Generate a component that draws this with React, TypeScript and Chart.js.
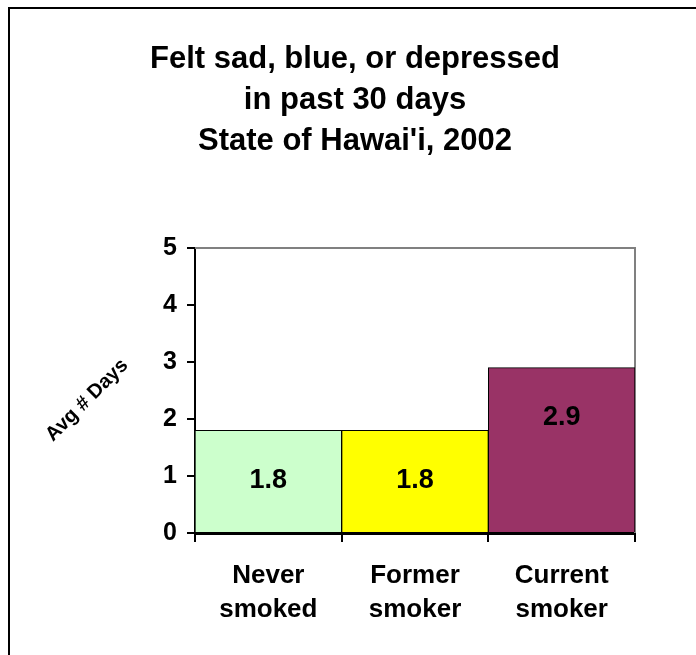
import { useEffect, useRef } from "react";
import { Chart, registerables } from "chart.js";

Chart.register(...registerables);

const FONT = "'Liberation Sans', Arial, Helvetica, sans-serif";

const titleLines = ["Felt sad, blue, or depressed", "in past 30 days", "State of Hawai'i, 2002"];
const categories = [
  ["Never", "smoked"],
  ["Former", "smoker"],
  ["Current", "smoker"],
];
const values = [1.8, 1.8, 2.9];
const barColors = ["#CCFFCC", "#FFFF00", "#993366"];
const yMin = 0;
const yMax = 5;
const yStep = 1;
const yTitle = "Avg # Days";

const framePlugin = {
  id: "frame",
  beforeDraw(chart: any) {
    const ctx = chart.ctx;
    ctx.save();
    ctx.fillStyle = "#000";
    ctx.fillRect(8, 7, chart.width - 8, 2);
    ctx.fillRect(8, 7, 2, chart.height - 7);
    ctx.restore();
  },
};

const plotBorderPlugin = {
  id: "plotBorder",
  beforeDatasetsDraw(chart: any) {
    const { ctx, chartArea } = chart;
    ctx.save();
    ctx.strokeStyle = "#808080";
    ctx.lineWidth = 2;
    ctx.beginPath();
    ctx.moveTo(chartArea.left, chartArea.top);
    ctx.lineTo(chartArea.right, chartArea.top);
    ctx.lineTo(chartArea.right, chartArea.bottom);
    ctx.stroke();
    ctx.restore();
  },
};

const valueLabelPlugin = {
  id: "valueLabels",
  afterDatasetsDraw(chart: any) {
    const ctx = chart.ctx;
    const meta = chart.getDatasetMeta(0);
    ctx.save();
    ctx.fillStyle = "#000";
    ctx.font = `bold 27px ${FONT}`;
    ctx.textAlign = "center";
    ctx.textBaseline = "middle";
    meta.data.forEach((el: any, i: number) => {
      ctx.fillText(values[i].toFixed(1), el.x, el.y + 50);
    });
    ctx.restore();
  },
};

const yTitlePlugin = {
  id: "yTitleDiag",
  afterDraw(chart: any) {
    const ctx = chart.ctx;
    const yScale = chart.scales.y;
    const cy = yScale.getPixelForValue(2.33);
    ctx.save();
    ctx.translate(87, cy);
    ctx.rotate(-Math.PI / 4);
    ctx.fillStyle = "#000";
    ctx.font = `bold 20px ${FONT}`;
    ctx.textAlign = "center";
    ctx.textBaseline = "middle";
    ctx.fillText(yTitle, 0, 0);
    ctx.restore();
  },
};

export default function App() {
  const ref = useRef<HTMLCanvasElement | null>(null);

  useEffect(() => {
    if (!ref.current) return;
    const chart = new Chart(ref.current, {
      type: "bar",
      data: {
        labels: categories,
        datasets: [
          {
            data: values,
            backgroundColor: barColors,
            borderColor: "#000",
            borderWidth: 1,
            barPercentage: 1,
            categoryPercentage: 1,
          },
        ],
      },
      options: {
        animation: false,
        responsive: false,
        devicePixelRatio: 1,
        layout: { padding: { top: 0, left: 75, right: 61, bottom: 0 } },
        plugins: {
          legend: { display: false },
          tooltip: { enabled: false },
          title: {
            display: true,
            text: titleLines,
            color: "#000",
            font: { family: FONT, size: 31, weight: "bold", lineHeight: 41 / 31 },
            padding: { top: 39, bottom: 86 },
          },
        },
        scales: {
          x: {
            offset: true,
            grid: {
              offset: true,
              drawOnChartArea: false,
              drawTicks: true,
              tickLength: 9,
              color: "#000",
              lineWidth: 2,
            },
            border: { display: true, color: "#000", width: 3 },
            ticks: {
              color: "#000",
              font: { family: FONT, size: 26, weight: "bold", lineHeight: 34 / 26 },
              padding: 17,
              maxRotation: 0,
              autoSkip: false,
            },
            afterFit: (s: any) => {
              s.height = 122;
            },
          },
          y: {
            min: yMin,
            max: yMax,
            ticks: {
              stepSize: yStep,
              color: "#000",
              font: { family: FONT, size: 25, weight: "bold" },
              padding: 10,
            },
            grid: {
              drawOnChartArea: false,
              drawTicks: true,
              tickLength: 8,
              color: "#000",
              lineWidth: 2,
            },
            border: { display: true, color: "#000", width: 2 },
            afterFit: (s: any) => {
              s.width = 120;
            },
          },
        },
      },
      plugins: [framePlugin, plotBorderPlugin, valueLabelPlugin, yTitlePlugin],
    });
    return () => chart.destroy();
  }, []);

  return (
    <div style={{ position: "absolute", left: 0, top: 0, width: 696, height: 655 }}>
      <canvas ref={ref} width={696} height={655} style={{ display: "block" }} />
    </div>
  );
}
